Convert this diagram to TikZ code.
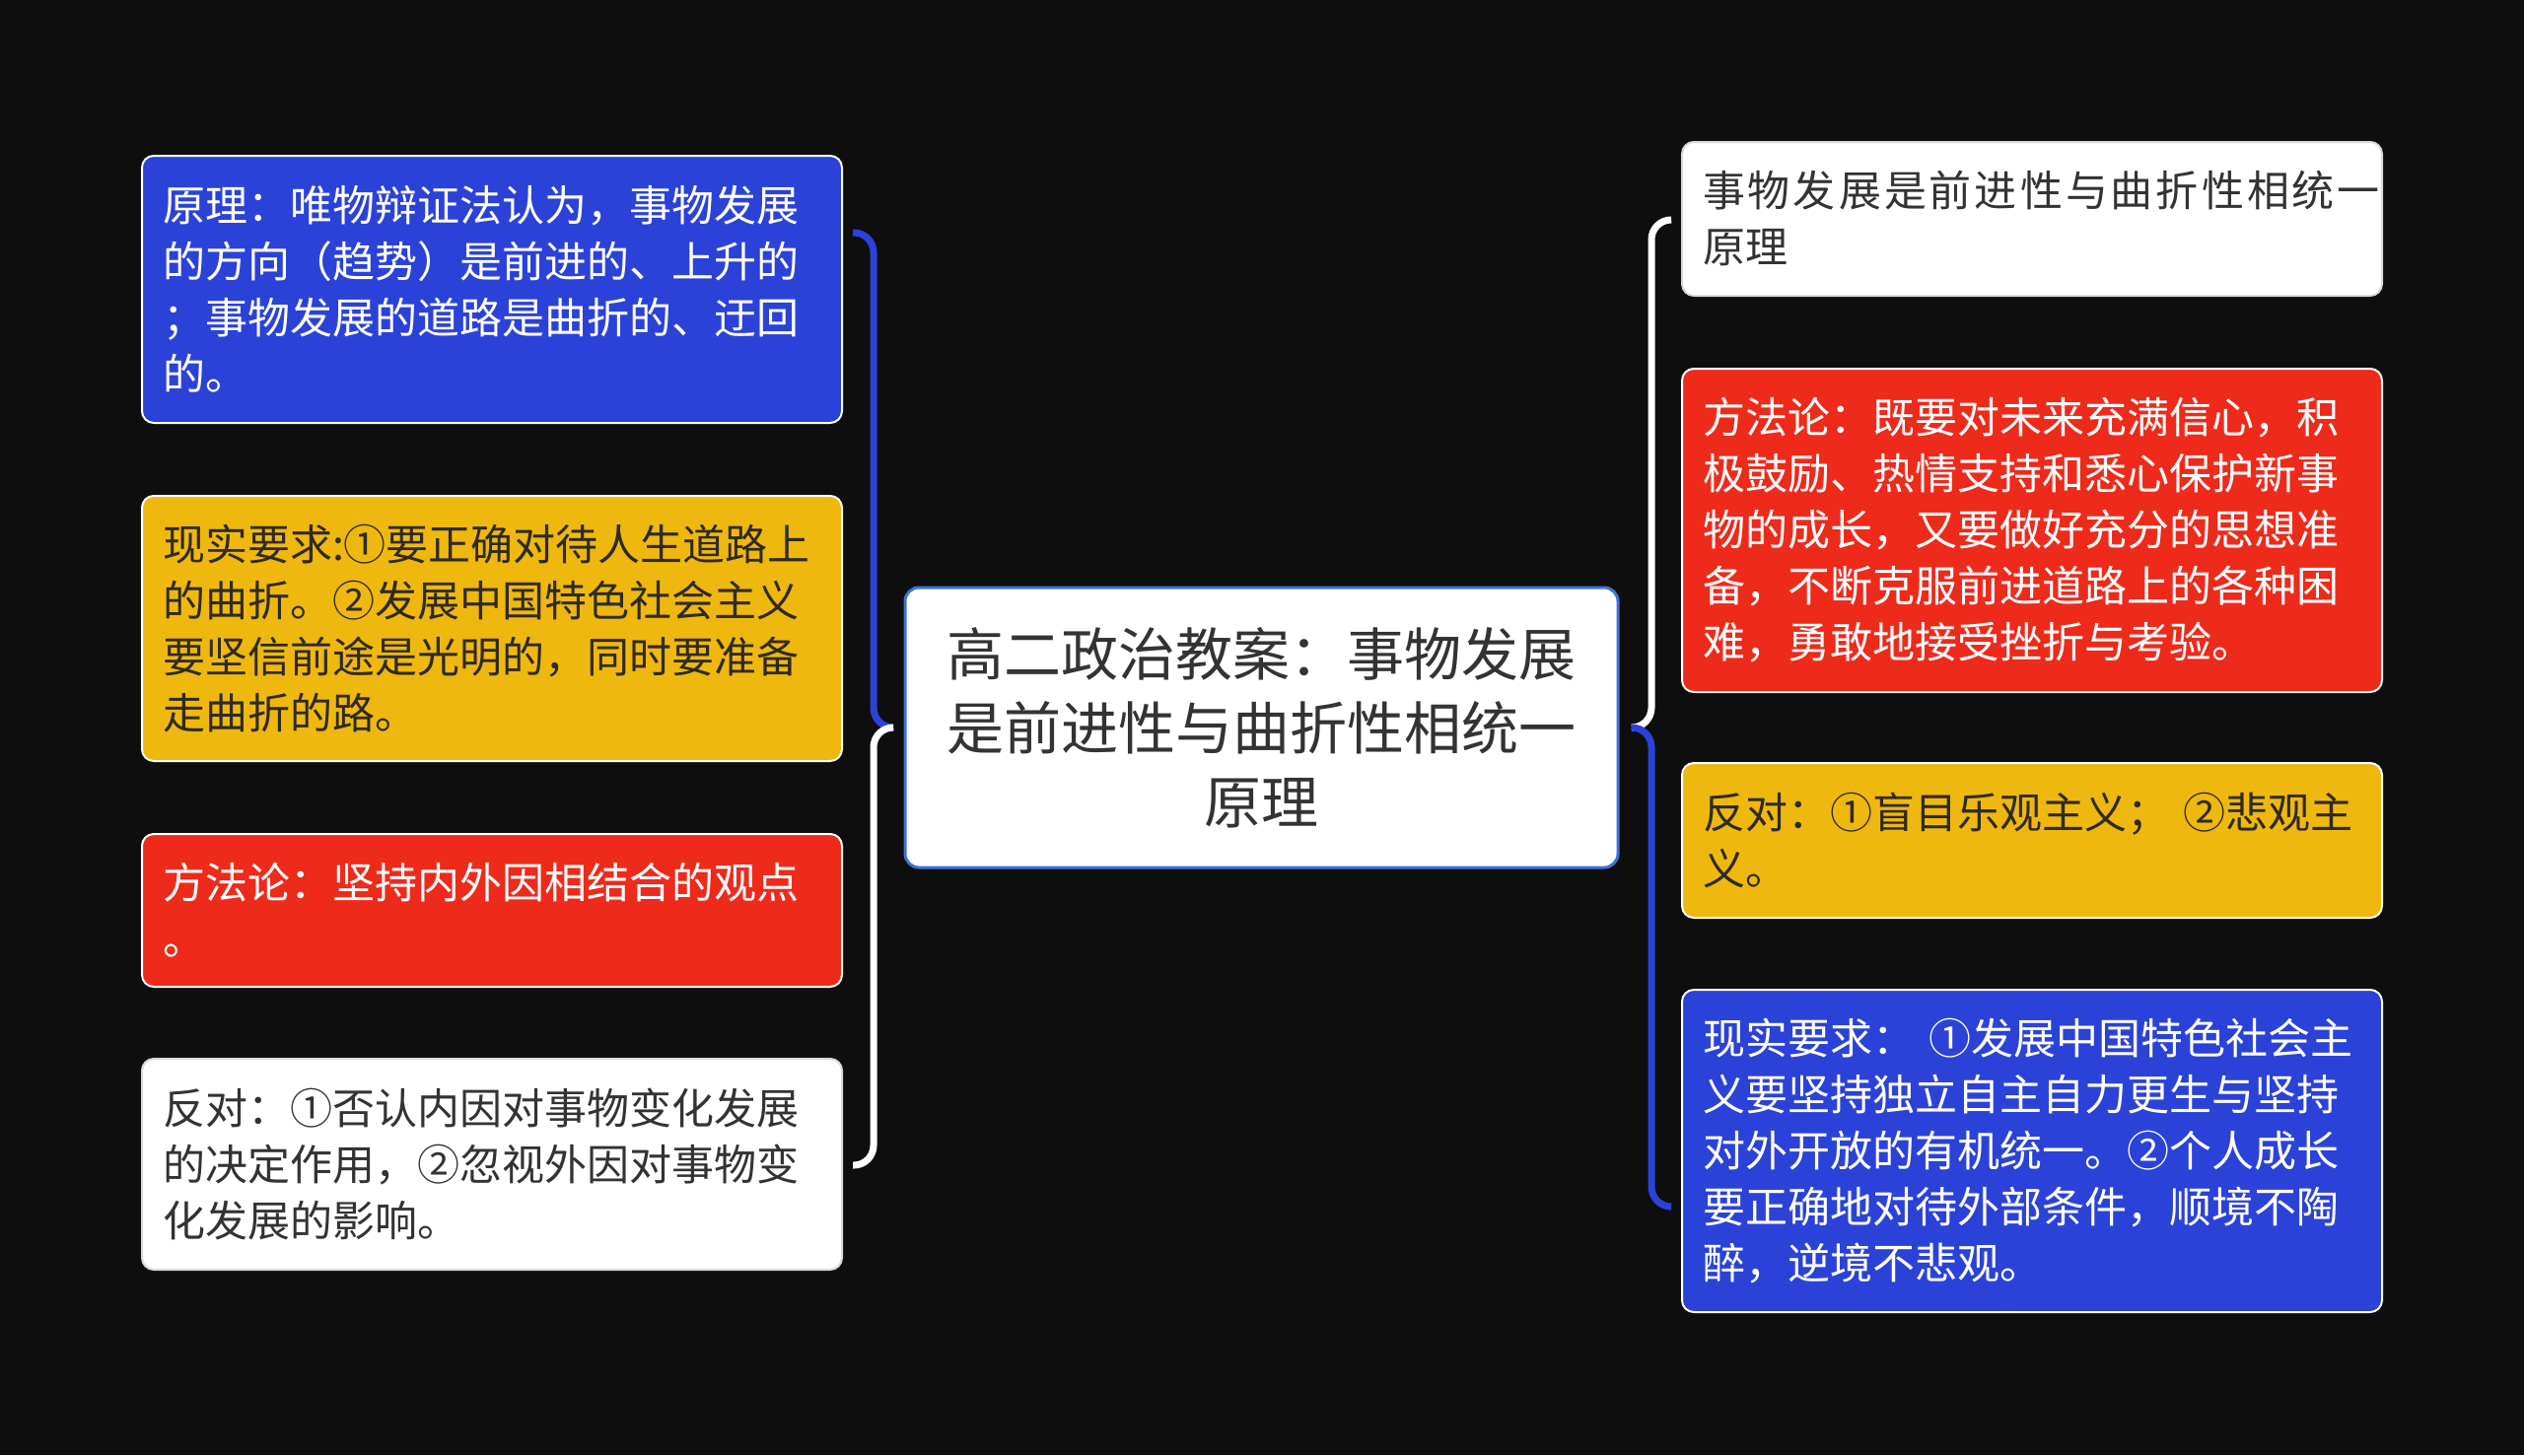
\documentclass[tikz,border=0pt]{standalone}
\usepackage{fontspec}
\setmainfont{Noto Sans CJK SC}
\definecolor{bg}{HTML}{0E0E0E}
\definecolor{bblue}{HTML}{2B42D8}
\definecolor{byellow}{HTML}{EFB80F}
\definecolor{bred}{HTML}{EE2A1B}
\definecolor{darktext}{HTML}{333333}
\definecolor{yeltext}{HTML}{2E2A1E}
\definecolor{cborder}{HTML}{3D72DA}
\newcommand{\gp}{\hspace{3pt}}
\begin{document}
\begin{tikzpicture}[x=1pt,y=-1pt,
  box/.style={rounded corners=12pt, line width=2pt, draw=white, minimum width=710pt,
    text width=668pt, inner xsep=21pt, inner ysep=0pt, align=left,
    font=\fontsize{43pt}{57pt}\selectfont, anchor=center},
  bluebox/.style={box, fill=bblue, text=white},
  yelbox/.style={box, fill=byellow, text=yeltext},
  redbox/.style={box, fill=bred, text=white},
  whitebox/.style={box, fill=white, draw=white!85!black, text=darktext},
  centerbox/.style={rounded corners=14pt, line width=3pt, draw=cborder, fill=white,
    minimum width=723pt, minimum height=284pt, text width=680pt, align=center,
    inner sep=0pt, text=darktext, font=\fontsize{58pt}{75pt}\selectfont},
  brk/.style={line width=7pt, rounded corners=20pt}]

\fill[bg] (0,0) rectangle (2560,1476);
\useasboundingbox (0,0) rectangle (2560,1476);

% center
\node[centerbox] (c) at (1279.5,738) {高二政治教案：事物发展\\是前进性与曲折性相统一\\原理};

% left children
\node[bluebox, minimum height=271pt] (l1) at (499,293.5)
  {原理：唯物辩证法认为，事物发展\\的方向（趋势）是前进的、上升的\\；事物发展的道路是曲折的、迂回\\的。};
\node[yelbox, minimum height=269pt] (l2) at (499,637.5)
  {现实要求:①要正确对待人生道路上\\的曲折。②发展中国特色社会主义\\要坚信前途是光明的，同时要准备\\走曲折的路。};
\node[redbox, minimum height=155pt] (l3) at (499,923.5)
  {方法论：坚持内外因相结合的观点\\。};
\node[whitebox, minimum height=214pt] (l4) at (499,1181)
  {反对：①否认内因对事物变化发展\\的决定作用，②忽视外因对事物变\\化发展的影响。};

% right children
\node[whitebox, minimum height=156pt] (r1) at (2061,222)
  {\mbox{事\gp 物\gp 发\gp 展\gp 是\gp 前\gp 进\gp 性\gp 与\gp 曲\gp 折\gp 性\gp 相\gp 统\gp 一}\\原理};
\node[redbox, minimum height=328pt] (r2) at (2061,538)
  {方法论：既要对未来充满信心，积\\极鼓励、热情支持和悉心保护新事\\物的成长，又要做好充分的思想准\\备，不断克服前进道路上的各种困\\难，勇敢地接受挫折与考验。};
\node[yelbox, minimum height=157pt] (r3) at (2061,852.5)
  {反对：①盲目乐观主义； ②悲观主\\义。};
\node[bluebox, minimum height=327pt] (r4) at (2061,1167.5)
  {现实要求： ①发展中国特色社会主\\义要坚持独立自主自力更生与坚持\\对外开放的有机统一。②个人成长\\要正确地对待外部条件，顺境不陶\\醉，逆境不悲观。};

% bracket coordinates
\coordinate (lm) at ([xshift=-13pt]c.west);
\coordinate (lspine) at (886,738);
\coordinate (lt) at (865,236);
\coordinate (lb) at (865,1182);
\coordinate (rm) at ([xshift=14pt]c.east);
\coordinate (rspine) at (1675,738);
\coordinate (rt) at (1693,223);
\coordinate (rb) at (1693,1224);

% left brackets
\draw[brk, bblue] (lt) -- (lt -| lspine) -- (lm -| lspine) -- (lm);
\draw[brk, white] (lm) -- (lm -| lspine) -- (lb -| lspine) -- (lb);
% right brackets
\draw[brk, white] (rt) -- (rt -| rspine) -- (rm -| rspine) -- (rm);
\draw[brk, bblue] (rm) -- (rm -| rspine) -- (rb -| rspine) -- (rb);
\end{tikzpicture}
\end{document}
